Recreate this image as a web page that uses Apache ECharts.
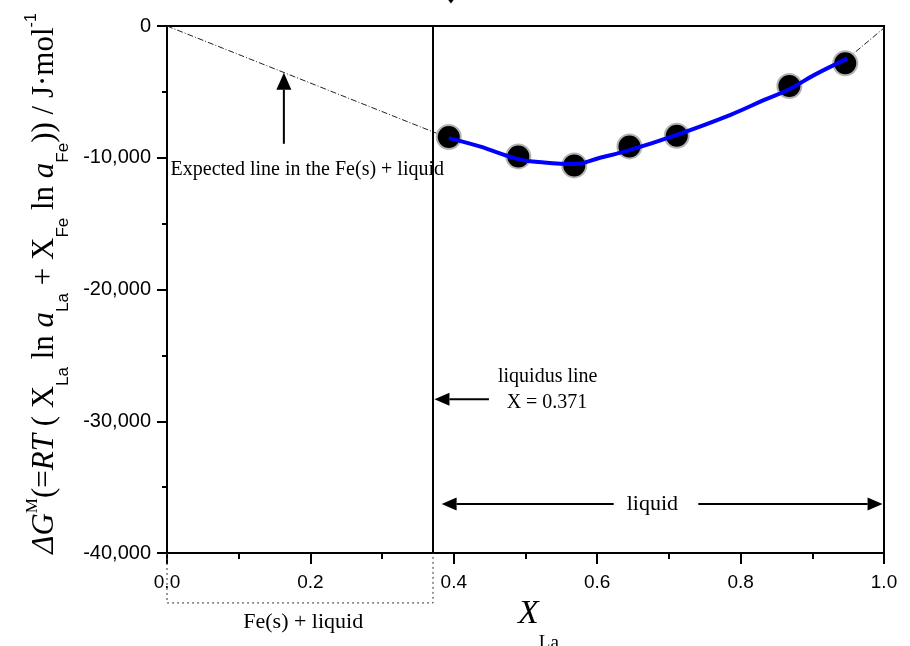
<!DOCTYPE html>
<html>
<head>
<meta charset="utf-8">
<script src="https://cdn.jsdelivr.net/npm/echarts@6/dist/echarts.min.js"></script>
<style>
  html, body { margin: 0; padding: 0; background: #fff; }
  #main { width: 910px; height: 646px; }
</style>
</head>
<body>
<div id="main"></div>
<script>
// Integral molar Gibbs energy of mixing for liquid La–Fe alloys
const xLa = [0.393, 0.490, 0.568, 0.645, 0.711, 0.868, 0.946];
const dGm = [-8430, -9900, -10580, -9140, -8330, -4550, -2830];

// Smoothed fit through the liquid-region points
const fitX = [0.393, 0.436, 0.490, 0.526, 0.568, 0.604, 0.645, 0.711, 0.786, 0.833, 0.868, 0.903, 0.949];
const fitY = [-8510, -9140, -10100, -10360, -10480, -10000, -9420, -8260, -6740, -5610, -4800, -3710, -2480];

// Expected straight line across the two-phase Fe(s) + liquid field, and its continuation to pure La
const expLowX = [0, 0.393];
const expLowY = [0, -8510];
const expHighX = [0.949, 1.0];
const expHighY = [-2480, -150];

// Liquidus composition
const liquidusX = 0.371;

// Axis ticks
const xTicks = [0, 0.2, 0.4, 0.6, 0.8, 1.0];
const xTickLabels = ['0.0', '0.2', '0.4', '0.6', '0.8', '1.0'];
const yTicks = [-40000, -30000, -20000, -10000, 0];
const yTickLabels = ['-40,000', '-30,000', '-20,000', '-10,000', '0'];

const serif = '"Liberation Serif", "Times New Roman", serif';
const sans = '"Liberation Sans", Arial, sans-serif';

function pairs(xs, ys) { return xs.map((x, i) => [x, ys[i]]); }
function tickLabel(ticks, labels) {
  return v => {
    const i = ticks.findIndex(t => Math.abs(t - v) < 1e-9);
    return i >= 0 ? labels[i] : '';
  };
}

const chart = echarts.init(document.getElementById('main'), null, { renderer: 'canvas' });

const yName = '{it|ΔG}{sup|M}{rm|(=}{it|RT}{rm| ( X}{sub|La}{rm| ln }{it|a}{sub|La}{rm| + X}{sub|Fe}{rm| ln }{it|a}{sub|Fe}{rm|)) / J·mol}{sup2|-1}';

chart.setOption({
  animation: false,
  backgroundColor: '#fff',
  grid: {
    left: 167, right: 26, top: 26, bottom: 93,
    outerBoundsMode: 'none', containLabel: false,
    show: true, borderColor: '#000', borderWidth: 2, backgroundColor: 'transparent'
  },
  xAxis: {
    type: 'value', min: 0, max: 1, interval: 0.2,
    axisLine: { show: true, onZero: false, lineStyle: { color: '#000', width: 2 } },
    axisTick: { show: true, inside: false, length: 11, lineStyle: { color: '#000', width: 2 } },
    minorTick: { show: true, splitNumber: 2, length: 6, lineStyle: { color: '#000', width: 2 } },
    splitLine: { show: false },
    axisLabel: { formatter: tickLabel(xTicks, xTickLabels), fontFamily: sans, fontSize: 19, color: '#000', margin: 20 },
    name: '{x|X}{s|La}',
    nameLocation: 'middle',
    nameGap: 19,
    nameTextStyle: {
      padding: [0, 0, 0, 26],
      rich: {
        x: { fontFamily: serif, fontStyle: 'italic', fontSize: 34, lineHeight: 78, color: '#000' },
        s: { fontFamily: serif, fontSize: 19, lineHeight: 20, verticalAlign: 'bottom', color: '#000' }
      }
    }
  },
  yAxis: {
    type: 'value', min: -40000, max: 0, interval: 10000,
    axisLine: { show: true, onZero: false, lineStyle: { color: '#000', width: 2 } },
    axisTick: { show: true, inside: false, length: 10, lineStyle: { color: '#000', width: 2 } },
    minorTick: { show: true, splitNumber: 2, length: 5, lineStyle: { color: '#000', width: 2 } },
    splitLine: { show: false },
    axisLabel: { formatter: tickLabel(yTicks, yTickLabels), fontFamily: sans, fontSize: 20, color: '#000', margin: 16 },
    name: yName,
    nameLocation: 'middle',
    nameRotate: 90,
    nameGap: 93,
    nameTextStyle: {
      padding: [0, 0, 0, 12],
      rich: {
        rm: { fontFamily: serif, fontSize: 31, lineHeight: 54, color: '#000' },
        it: { fontFamily: serif, fontStyle: 'italic', fontSize: 31, lineHeight: 54, color: '#000' },
        sub: { fontFamily: sans, fontSize: 17, lineHeight: 20, verticalAlign: 'bottom', color: '#000' },
        sup: { fontFamily: serif, fontSize: 17, lineHeight: 20, verticalAlign: 'top', padding: [6, 0, 0, 0], color: '#000' },
        sup2: { fontFamily: sans, fontSize: 16, lineHeight: 20, verticalAlign: 'top', padding: [5, 0, 0, 0], color: '#000' }
      }
    }
  },
  series: [
    {
      name: 'expected-low', type: 'line', data: pairs(expLowX, expLowY),
      symbol: 'none', silent: true, z: 2,
      lineStyle: { color: '#222', width: 1, type: [6, 2, 1, 2] }
    },
    {
      name: 'expected-high', type: 'line', data: pairs(expHighX, expHighY),
      symbol: 'none', silent: true, z: 2,
      lineStyle: { color: '#222', width: 1, type: [6, 2, 1, 2] }
    },
    {
      name: 'liquidus', type: 'line', data: [[liquidusX, 0], [liquidusX, -40000]],
      symbol: 'none', silent: true, z: 2,
      lineStyle: { color: '#000', width: 2 }
    },
    {
      name: 'measured', type: 'scatter', data: pairs(xLa, dGm),
      symbol: 'circle', symbolSize: 24, z: 3,
      itemStyle: { color: '#000', opacity: 1, borderColor: '#b4b4b4', borderWidth: 2 }
    },
    {
      name: 'fit', type: 'line', data: pairs(fitX, fitY),
      smooth: 0.4, symbol: 'none', z: 4,
      lineStyle: { color: '#0000ff', width: 4 }
    }
  ]
});

// Annotations placed in data coordinates
function px(p) { return chart.convertToPixel({ gridIndex: 0 }, p); }

function arrow(from, to, headLen, headHalf) {
  const a = px(from), b = px(to);
  const dx = b[0] - a[0], dy = b[1] - a[1];
  const len = Math.hypot(dx, dy);
  const ux = dx / len, uy = dy / len;
  const nx = -uy, ny = ux;
  const bx = b[0] - ux * headLen, by = b[1] - uy * headLen;
  return [
    { type: 'line', silent: true, z: 10,
      shape: { x1: a[0], y1: a[1], x2: bx, y2: by },
      style: { stroke: '#000', lineWidth: 2 } },
    { type: 'polygon', silent: true, z: 10,
      shape: { points: [[b[0], b[1]], [bx + nx * headHalf, by + ny * headHalf], [bx - nx * headHalf, by - ny * headHalf]] },
      style: { fill: '#000' } }
  ];
}

function label(text, at, size, align) {
  const p = px(at);
  return { type: 'text', silent: true, z: 10, x: p[0], y: p[1],
    style: { text: text, fontFamily: serif, fontSize: size, fill: '#000',
      align: align || 'center', verticalAlign: 'middle' } };
}

const gfx = [];
gfx.push(...arrow([0.163, -8940], [0.163, -3540], 17, 7.5));
gfx.push(label('Expected line in the Fe(s) + liquid', [0.005, -10900], 20, 'left'));

gfx.push(...arrow([0.449, -28330], [0.373, -28330], 15, 6.5));
gfx.push(label('liquidus line', [0.531, -26590], 20));
gfx.push(label('X = 0.371', [0.530, -28560], 20));

gfx.push(...arrow([0.623, -36290], [0.383, -36290], 15, 6.5));
gfx.push(...arrow([0.741, -36290], [0.998, -36290], 15, 6.5));
gfx.push(label('liquid', [0.677, -36290], 22));

// Two-phase field bracket below the axis
const b0 = px([0, -40000]), b1 = px([0, -43790]), b2 = px([liquidusX, -43790]), b3 = px([liquidusX, -40000]);
gfx.push({ type: 'polyline', silent: true, z: 10,
  shape: { points: [b0, b1, b2, b3] },
  style: { stroke: '#333', lineWidth: 1, lineDash: [2, 3], fill: null } });
gfx.push(label('Fe(s) + liquid', [0.19, -45260], 22));

// Small pointer at the top edge
const t = px([0.396, 1700]);
gfx.push({ type: 'polygon', silent: true, z: 10,
  shape: { points: [[t[0] - 3, t[1] - 4], [t[0] + 3, t[1] - 4], [t[0], t[1]]] },
  style: { fill: '#000' } });

chart.setOption({ graphic: gfx });
</script>
</body>
</html>
